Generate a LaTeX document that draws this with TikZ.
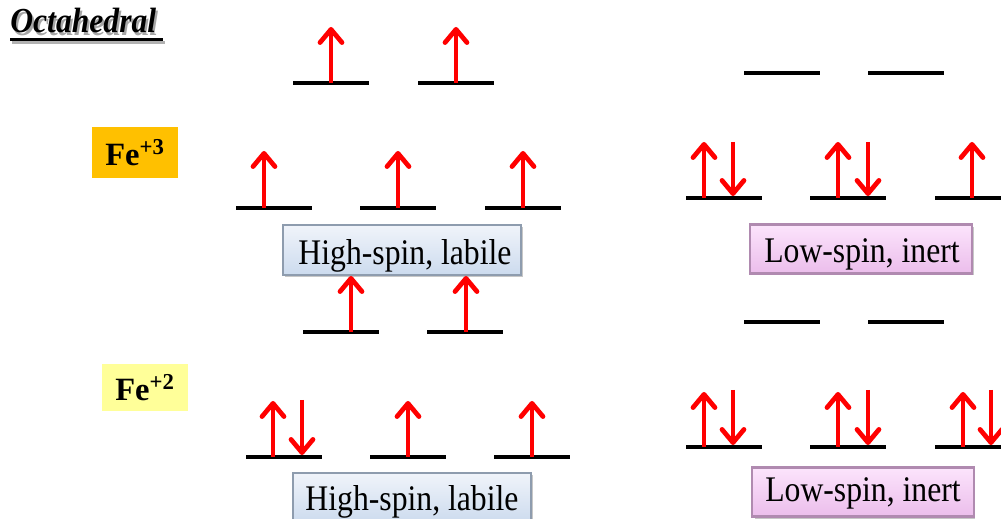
\documentclass[tikz,border=0pt]{standalone}
\usepackage{graphicx}
\usepackage{fontspec}
\setmainfont{Liberation Serif}
\usetikzlibrary{arrows.meta}
\definecolor{spinred}{HTML}{FF0000}
\definecolor{feIII}{HTML}{FFC000}
\definecolor{feII}{HTML}{FFFF99}
\definecolor{hstop}{HTML}{F0F4FA}
\definecolor{hsbot}{HTML}{CCDBEE}
\definecolor{hsedge}{HTML}{8E9CAE}
\definecolor{lstop}{HTML}{FCE4FC}
\definecolor{lsbot}{HTML}{EBBDEB}
\definecolor{lsedge}{HTML}{B08AB0}
\newcommand\lvl[2]{\draw[level] (#1,#2) -- ++(76,0);}
\newcommand\spinup[3]{\draw[spin] (#1,#2) -- (#1,#3);}
\newcommand\tallt[1]{\scalebox{0.88}[1]{#1}}
\newcommand\titlet[1]{\scalebox{0.9}[1]{#1}}
\begin{document}
\begin{tikzpicture}[x=0.02cm,y=-0.02cm,
  level/.style={line width=0.085cm, black},
  spin/.style={line width=0.095cm, spinred, -{Straight Barb[length=7.5pt,width=12.5pt,round]}},
  labelbox/.style={inner sep=0pt, line width=1.4pt},
  labeltext/.style={font=\fontsize{20.5}{22}\selectfont, inner sep=0pt, anchor=base},
  hsbox/.style={labelbox, draw=hsedge, top color=hstop, bottom color=hsbot, minimum width=4.76cm, minimum height=1.0cm},
  lsbox/.style={labelbox, draw=lsedge, top color=lstop, bottom color=lsbot, minimum width=4.44cm, minimum height=0.98cm},
  ionbox/.style={inner sep=0pt, minimum width=1.72cm, font=\fontsize{18.5}{20}\selectfont\bfseries},
  titletext/.style={font=\fontsize{20}{22}\selectfont\bfseries\itshape, anchor=base west, inner sep=0pt}]
\useasboundingbox (0,0) rectangle (1001,519);

% title
\node[titletext, text=black!35] (titleshadow) at (12,35.5) {\titlet{Octahedral}};
\fill[black!30] (12,41) rectangle (165,44);
\node[titletext] (title) at (10,33) {\titlet{Octahedral}};
\fill[black] (10,38.5) rectangle (163,41.5);

% ion labels
\node[ionbox, fill=feIII, minimum height=1.02cm] (fe3) at (135,153) {Fe\textsuperscript{+3}};
\node[ionbox, fill=feII, minimum height=0.94cm] (fe2) at (145,388) {Fe\textsuperscript{+2}};

% ---- Fe+3 high spin ----
\lvl{293}{83}\lvl{418}{83}
\spinup{331}{83}{27}\spinup{456}{83}{27}
\lvl{236}{208}\lvl{360}{208}\lvl{485}{208}
\spinup{264}{208}{151}\spinup{398}{208}{151}\spinup{523}{208}{151}
\fill[black!22] (285,227) rectangle (523,277);
\node[hsbox] (hs3) at (402,250) {};
\node[labeltext] (hs3t) at (405,265) {\tallt{High-spin, labile}};

% ---- Fe+3 low spin ----
\lvl{744}{73}\lvl{868}{73}
\lvl{686}{198}\lvl{810}{198}\lvl{935}{198}
\spinup{704}{198}{142}\draw[spin] (733,142) -- (733,196);
\spinup{838}{198}{142}\draw[spin] (868,142) -- (868,196);
\spinup{972}{198}{142}
\fill[black!22] (752,227) rectangle (974,275);
\node[lsbox] (ls3) at (861,249) {};
\node[labeltext] (ls3t) at (862,263) {\tallt{Low-spin, inert}};

% ---- Fe+2 high spin ----
\lvl{303}{332}\lvl{427}{332}
\spinup{351}{332}{276}\spinup{466}{332}{276}
\lvl{246}{457}\lvl{370}{457}\lvl{494}{457}
\spinup{273}{457}{401}\draw[spin] (302,400) -- (302,455);
\spinup{408}{457}{401}\spinup{532}{457}{401}
\fill[black!22] (295,475) rectangle (533,525);
\node[hsbox] (hs2) at (412,498) {};
\node[labeltext] (hs2t) at (412,511) {\tallt{High-spin, labile}};

% ---- Fe+2 low spin ----
\lvl{744}{322}\lvl{868}{322}
\lvl{686}{447}\lvl{810}{447}\lvl{935}{447}
\spinup{704}{447}{392}\draw[spin] (733,390) -- (733,445);
\spinup{838}{447}{392}\draw[spin] (868,390) -- (868,445);
\spinup{963}{447}{392}\draw[spin] (991,390) -- (991,445);
\fill[black!22] (755,469) rectangle (975,519);
\node[lsbox] (ls2) at (863,492) {};
\node[labeltext] (ls2t) at (863,502) {\tallt{Low-spin, inert}};
\end{tikzpicture}
\end{document}
